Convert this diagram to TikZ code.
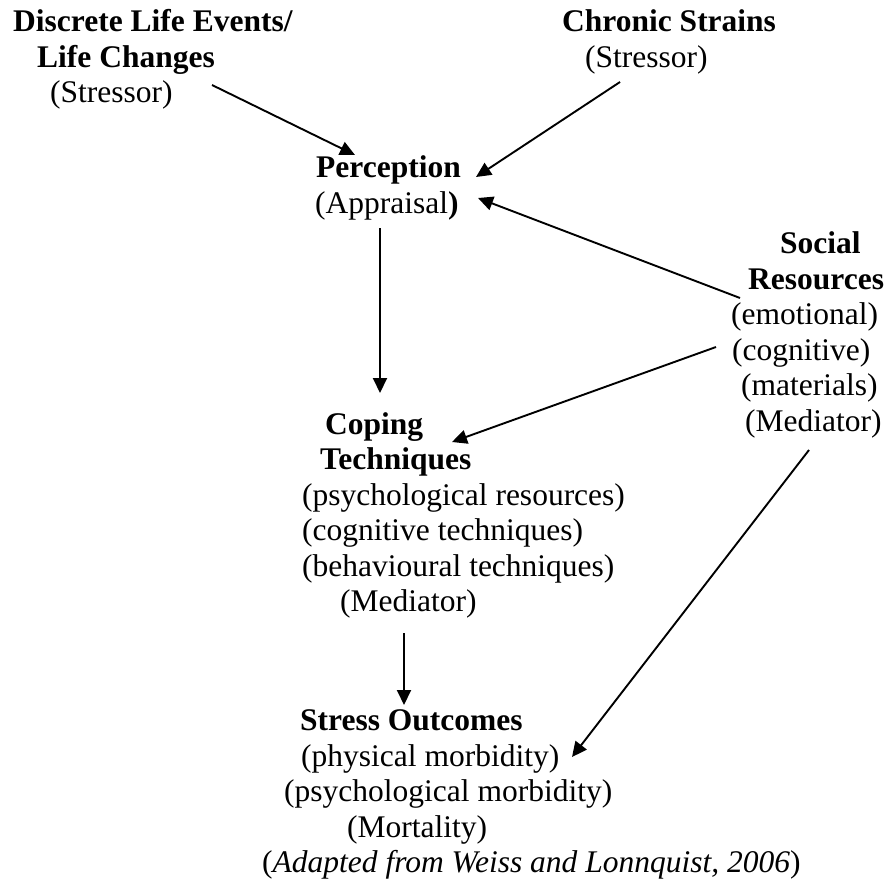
\documentclass[tikz,border=0pt]{standalone}
\usepackage{fontspec}
\setmainfont{Liberation Serif}
\usetikzlibrary{arrows.meta}

\begin{document}
\begin{tikzpicture}[x=1pt, y=-1pt,
   txtblock/.style={anchor=north west, align=left, inner sep=0pt, font=\fontsize{31.5}{35.5}\selectfont},
   arrow/.style={-{Triangle[width=14pt,length=15pt]}, line width=1.9pt}
]
\useasboundingbox (0,0) rectangle (890,886);
% Nodes
\node [txtblock] (life) at (13,9.5) {\textbf{Discrete Life Events/}\\\hspace*{24pt}\textbf{Life Changes}\\\hspace*{37pt}(Stressor)};
\node [txtblock] (strain) at (562,9.5) {\textbf{Chronic Strains}\\\hspace*{23pt}(Stressor)};
\node [txtblock] (percep) at (315,155.5) {\hspace*{1pt}\textbf{Perception}\\(Appraisal\textbf{)}};
\node [txtblock] (social) at (731,231.5) {\hspace*{49pt}\textbf{Social}\\\hspace*{17pt}\textbf{Resources}\\(emotional)\\\hspace*{1pt}(cognitive)\\\hspace*{10pt}(materials)\\\hspace*{14pt}(Mediator)};
\node [txtblock] (coping) at (302,412) {\hspace*{23pt}\textbf{Coping}\\\hspace*{18pt}\textbf{Techniques}\\(psychological resources)\\(cognitive techniques)\\(behavioural techniques)\\\hspace*{38pt}(Mediator)};
\node [txtblock] (stress) at (262,709.5) {\hspace*{38pt}\textbf{Stress Outcomes}\\\hspace*{39pt}(physical morbidity)\\\hspace*{22pt}(psychological morbidity)\\\hspace*{85pt}(Mortality)\\(\textit{Adapted from Weiss and Lonnquist, 2006})};

% Arrow ends
\coordinate (life-out) at (212,85);
\coordinate (percep-in1) at (355,155);
\coordinate (strain-out) at (620,82);
\coordinate (percep-in2) at (476,177);
\coordinate (social-out1) at (740,298);
\coordinate (percep-in3) at (478,198);
\coordinate (percep-out) at (380,228);
\coordinate (coping-in1) at (380,393);
\coordinate (social-out2) at (716,347);
\coordinate (coping-in2) at (452,442);
\coordinate (coping-out) at (404,633);
\coordinate (stress-in1) at (404,705);
\coordinate (social-out3) at (809,450);
\coordinate (stress-in2) at (572,757);

% Connections
\draw [arrow] (life-out) -- (percep-in1);
\draw [arrow] (strain-out) -- (percep-in2);
\draw [arrow] (social-out1) -- (percep-in3);
\draw [arrow] (percep-out) -- (coping-in1);
\draw [arrow] (social-out2) -- (coping-in2);
\draw [arrow] (coping-out) -- (stress-in1);
\draw [arrow] (social-out3) -- (stress-in2);

\end{tikzpicture}
\end{document}
